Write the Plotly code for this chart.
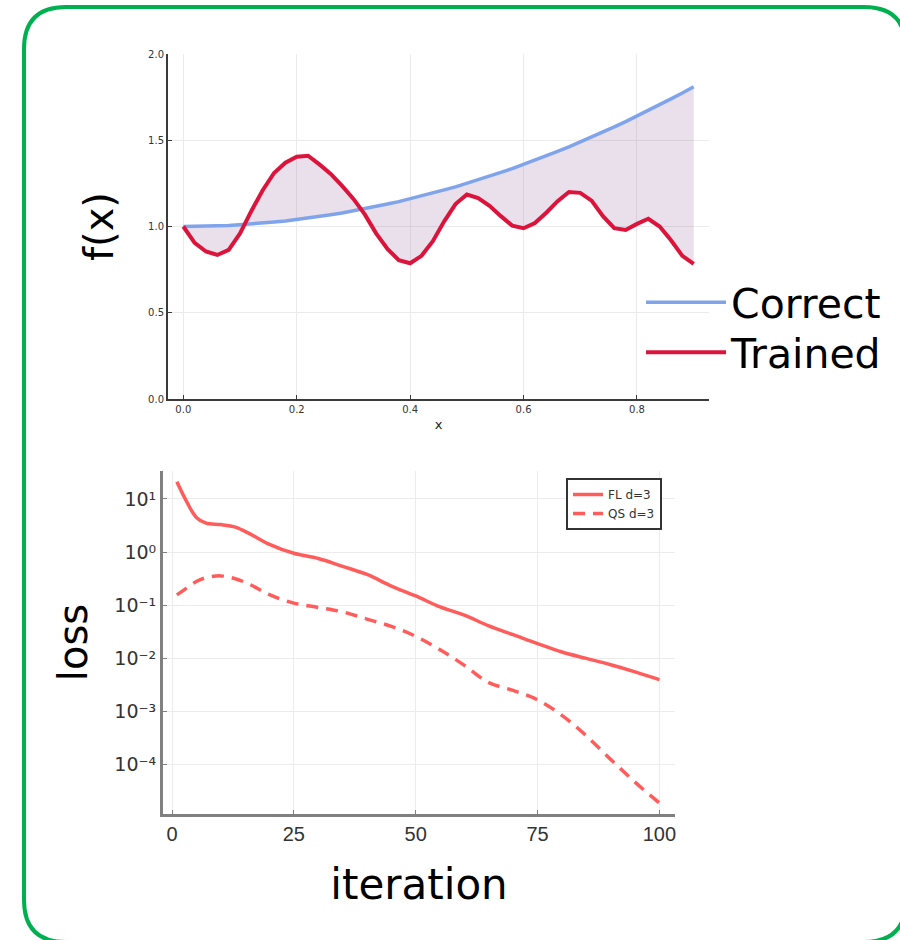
import plotly.graph_objects as go

# ---------------- data ----------------
x_vals = [0.00, 0.02, 0.04, 0.06, 0.08, 0.10, 0.12, 0.14, 0.16, 0.18,
          0.20, 0.22, 0.24, 0.26, 0.28, 0.30, 0.32, 0.34, 0.36, 0.38,
          0.40, 0.42, 0.44, 0.46, 0.48, 0.50, 0.52, 0.54, 0.56, 0.58,
          0.60, 0.62, 0.64, 0.66, 0.68, 0.70, 0.72, 0.74, 0.76, 0.78,
          0.80, 0.82, 0.84, 0.86, 0.88, 0.90]
correct_vals = [1.000, 1.000, 1.002, 1.004, 1.006, 1.010, 1.014, 1.020, 1.026, 1.032,
                1.040, 1.048, 1.058, 1.068, 1.078, 1.090, 1.102, 1.116, 1.130, 1.144,
                1.160, 1.176, 1.194, 1.212, 1.230, 1.250, 1.270, 1.292, 1.314, 1.336,
                1.360, 1.384, 1.410, 1.436, 1.462, 1.490, 1.518, 1.548, 1.578, 1.608,
                1.640, 1.672, 1.706, 1.740, 1.774, 1.810]
trained_vals = [1.000, 0.905, 0.855, 0.835, 0.865, 0.960, 1.090, 1.210, 1.310, 1.370,
                1.405, 1.410, 1.360, 1.305, 1.235, 1.160, 1.070, 0.960, 0.870, 0.805,
                0.787, 0.830, 0.915, 1.030, 1.130, 1.185, 1.165, 1.120, 1.060, 1.005,
                0.990, 1.020, 1.080, 1.147, 1.200, 1.195, 1.150, 1.060, 0.990, 0.980,
                1.015, 1.045, 1.000, 0.920, 0.830, 0.783]

iterations = [1, 3, 5, 7, 10, 13, 16, 20, 25, 30, 35, 40, 45, 50,
              55, 60, 65, 70, 75, 80, 85, 90, 95, 100]
fl_loss = [21.0, 8.9, 4.5, 3.5, 3.3, 2.95, 2.2, 1.4, 0.95, 0.76, 0.54, 0.38,
           0.23, 0.15, 0.093, 0.065, 0.041, 0.028, 0.019, 0.0132, 0.010,
           0.0076, 0.0056, 0.0040]
qs_loss = [0.157, 0.21, 0.28, 0.33, 0.357, 0.316, 0.245, 0.158, 0.11, 0.091,
           0.075, 0.055, 0.040, 0.026, 0.0145, 0.0074, 0.0035, 0.0025, 0.00166,
           0.00085, 0.00035, 0.000126, 0.000047, 0.000019]

log_tick_vals = [1e1, 1e0, 1e-1, 1e-2, 1e-3, 1e-4]
log_tick_text = ["10\u00b9", "10\u2070", "10\u207b\u00b9",
                 "10\u207b\u00b2", "10\u207b\u00b3", "10\u207b\u2074"]
iter_ticks = [0, 25, 50, 75, 100]
x_ticks = [0.0, 0.2, 0.4, 0.6, 0.8]
f_ticks = [0.0, 0.5, 1.0, 1.5, 2.0]

# ---------------- figure ----------------
W, H = 900, 940
BIG_FONT = "DejaVu Sans"
fig = go.Figure()

# fill between curves
fig.add_trace(go.Scatter(x=x_vals, y=correct_vals, mode="lines", line=dict(width=0),
                         showlegend=False, hoverinfo="skip", xaxis="x", yaxis="y"))
fig.add_trace(go.Scatter(x=x_vals, y=trained_vals, mode="lines", line=dict(width=0),
                         fill="tonexty", fillcolor="rgba(120,60,130,0.16)",
                         showlegend=False, hoverinfo="skip", xaxis="x", yaxis="y"))
fig.add_trace(go.Scatter(x=x_vals, y=correct_vals, mode="lines", name="Correct",
                         line=dict(color="#7fa4ec", width=3.5), xaxis="x", yaxis="y",
                         legend="legend"))
fig.add_trace(go.Scatter(x=x_vals, y=trained_vals, mode="lines", name="Trained",
                         line=dict(color="#dc143c", width=4), xaxis="x", yaxis="y",
                         legend="legend3"))

fig.add_trace(go.Scatter(x=iterations, y=fl_loss, mode="lines", name="FL d=3",
                         line=dict(color="#ff5c5c", width=3.5, shape="spline"),
                         xaxis="x2", yaxis="y2", legend="legend2"))
fig.add_trace(go.Scatter(x=iterations, y=qs_loss, mode="lines", name="QS d=3",
                         line=dict(color="#ff5c5c", width=3.5, dash="12px,8px", shape="spline"),
                         xaxis="x2", yaxis="y2", legend="legend2"))

def px_x(p):
    return p / W

def px_y(p):
    return 1 - p / H

big_legend = dict(xanchor="left", yanchor="top",
                  font=dict(family=BIG_FONT, size=41, color="#000"),
                  bgcolor="rgba(0,0,0,0)", borderwidth=0, itemwidth=80)

fig.update_layout(
    xaxis=dict(domain=[px_x(168), px_x(709)], range=[-0.027, 0.927], anchor="y",
               tickvals=x_ticks, ticktext=[f"{v:.1f}" for v in x_ticks], automargin=False,
               showline=True, linecolor="#3a3a3a", linewidth=2, ticks="inside", ticklen=4,
               tickcolor="#3a3a3a", showgrid=True, gridcolor="#ebebeb", zeroline=False,
               tickfont=dict(family="DejaVu Sans", size=10, color="#333"),
               title=dict(text="x", font=dict(family="DejaVu Sans", size=13, color="#222"),
                          standoff=6)),
    yaxis=dict(domain=[px_y(399), px_y(54)], range=[0, 2], anchor="x",
               tickvals=f_ticks, ticktext=[f"{v:.1f}" for v in f_ticks], automargin=False,
               showline=True, linecolor="#3a3a3a", linewidth=2, ticks="inside", ticklen=4,
               tickcolor="#3a3a3a", showgrid=True, gridcolor="#ebebeb", zeroline=False,
               tickfont=dict(family="DejaVu Sans", size=10, color="#333"),
               title=dict(text="f(x)", font=dict(family=BIG_FONT, size=40, color="#000"),
                          standoff=22)),
    xaxis2=dict(domain=[px_x(163), px_x(675)], range=[-1.85, 103.2], anchor="y2",
                tickvals=iter_ticks, ticktext=[str(v) for v in iter_ticks], automargin=False,
                showline=True, linecolor="#808080", linewidth=3, ticks="inside", ticklen=4,
                tickcolor="#808080", showgrid=True, gridcolor="#ececec", zeroline=False,
                tickfont=dict(family="Liberation Sans", size=20, color="#333"),
                title=dict(text="iteration", font=dict(family=BIG_FONT, size=42, color="#000"),
                           standoff=26)),
    yaxis2=dict(domain=[px_y(814), px_y(471)], type="log", range=[-4.927, 1.526], anchor="x2",
                tickvals=log_tick_vals, ticktext=log_tick_text, automargin=False,
                showline=True, linecolor="#808080", linewidth=3, ticks="inside", ticklen=4,
                tickcolor="#808080", showgrid=True, gridcolor="#ececec", zeroline=False,
                tickfont=dict(family="DejaVu Sans", size=19, color="#333"),
                title=dict(text="loss", font=dict(family=BIG_FONT, size=40, color="#000"),
                           standoff=15)),
    legend=dict(x=px_x(641), y=px_y(269), **big_legend),
    legend3=dict(x=px_x(641), y=px_y(319), **big_legend),
    legend2=dict(x=px_x(662), y=px_y(478), xanchor="right", yanchor="top",
                 font=dict(family="DejaVu Sans", size=12, color="#333"),
                 bgcolor="white", bordercolor="#333", borderwidth=2,
                 traceorder="normal"),
    width=W, height=H,
    margin=dict(l=0, r=0, t=0, b=0, autoexpand=False),
    paper_bgcolor="white", plot_bgcolor="white",
    showlegend=True,
)

# rounded green frame (decoration)
L, T, R, B, r = 24, 7, 906, 942, 42
path = (f"M {px_x(L + r)},{px_y(T)} L {px_x(R - r)},{px_y(T)} "
        f"Q {px_x(R)},{px_y(T)} {px_x(R)},{px_y(T + r)} "
        f"L {px_x(R)},{px_y(B - r)} Q {px_x(R)},{px_y(B)} {px_x(R - r)},{px_y(B)} "
        f"L {px_x(L + r)},{px_y(B)} Q {px_x(L)},{px_y(B)} {px_x(L)},{px_y(B - r)} "
        f"L {px_x(L)},{px_y(T + r)} Q {px_x(L)},{px_y(T)} {px_x(L + r)},{px_y(T)} Z")
fig.add_shape(type="path", path=path, xref="paper", yref="paper",
              line=dict(color="#00b050", width=4), layer="above")

fig.write_html("out.html")
